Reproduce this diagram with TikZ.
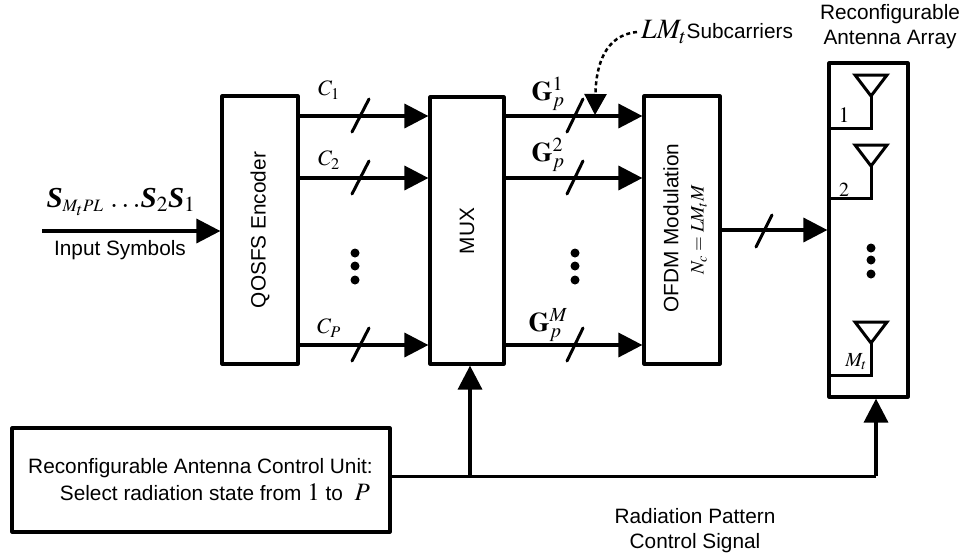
\documentclass[tikz,border=0pt]{standalone}
\usepackage{amsmath,amssymb}
\usepackage{mathptmx}
\usepackage[no-math]{fontspec}
\setmainfont{Liberation Sans}
\newfontfamily\tms{Liberation Serif}
\newcommand{\bS}{\mbox{\tms\bfseries\itshape S}}
\usepackage{tikz}
\usetikzlibrary{arrows.meta}
\begin{document}
\begin{tikzpicture}[x=1pt, y=-1pt, every node/.style={font=\fontsize{20.8}{25}\selectfont, inner sep=0pt}, >={Triangle[length=24pt, width=24pt]}, blk/.style={draw, line width=3.2pt, line join=round}, sig/.style={->, line width=3.5pt}, mk/.style={line width=3pt, line cap=round}, ant/.style={line width=3pt}]
	\useasboundingbox (0,0) rectangle (965,558);
	\node[blk, minimum width=76pt, minimum height=268pt] (enc) at (260,230) {};
	\node[blk, minimum width=74pt, minimum height=267pt] (mux) at (467,230.5) {};
	\node[blk, minimum width=76pt, minimum height=268pt] (ofdm) at (682,230) {};
	\node[blk, minimum width=79pt, minimum height=334pt] (arr) at (868.5,230) {};
	\node[blk, minimum width=378pt, minimum height=104pt] (ctrl) at (201,480) {};
	\node[rotate=90] (enct) at (260,230) {QOSFS Encoder};
	\node[rotate=90] (muxt) at (467,231) {MUX};
	\node[rotate=90] (ofdmt) at (671,228) {OFDM Modulation};
	\node[rotate=90] (nc) at (699,230) {\fontsize{19}{24}\selectfont $N_c = LM_tM$};
	\node[anchor=east] (ct1) at (373,468) {Reconfigurable Antenna Control Unit:};
	\node[anchor=east] (ct2) at (370,492) {Select radiation state from {\fontsize{25}{25}\selectfont $1$} to \ {\fontsize{25}{25}\selectfont $P$}};
	\coordinate (in) at (42,231);
	\draw[sig] (in) -- (enc.west |- in);
	\node (sym) at (121,202) {\fontsize{29}{30}\selectfont $\bS_{\scriptscriptstyle M_tPL}\,\dots\!\bS_2\bS_1$};
	\node (symt) at (120,250) {Input Symbols};
	\foreach \y/\d/\nm/\lb in {116/26/c1/C_1, 178/18/c2/C_2, 345/17/cp/C_P} {
		\draw[sig] (enc.east |- 0,\y) -- (mux.west |- 0,\y);
		\draw[mk] (352,{\y+16}) -- (369,{\y-17});
		\node (\nm) at (329,{\y-\d}) {\fontsize{22}{24}\selectfont $\lb$};
	}
	\foreach \y/\d/\nm/\lb in {116/22/g1/1, 178/23/g2/2, 345/20/gm/M} {
		\draw[sig] (mux.east |- 0,\y) -- (ofdm.west |- 0,\y);
		\draw[mk] (567,{\y+16}) -- (583,{\y-17});
		\node (\nm) at (548,{\y-\d}) {\fontsize{27}{27}\selectfont $\mathbf{G}_p^{\lb}$};
	}
	\foreach \x/\y in {355/253, 355/266, 355/280, 575/253, 575/266, 575/280, 871/248, 871/260, 871/274} {\fill (\x,\y) circle (4.5pt);}
	\coordinate (oa) at (720,230);
	\draw[sig] (ofdm.east |- oa) -- (arr.west |- oa);
	\draw[mk] (756,247) -- (772,215);
	% antennas
	\foreach \t in {75, 145, 322} {
		\draw[ant, line join=miter] (855,\t) -- (887,\t) -- (871,{\t+21}) -- cycle;
		\draw[ant] (871,{\t+21}) |- (arr.west |- 0,{\t+53});
	}
	\node (a1) at (844,115) {\fontsize{22}{24}\selectfont $1$};
	\node (a2) at (844,190) {\fontsize{20}{24}\selectfont $2$};
	\node (am) at (856,362) {\fontsize{20}{24}\selectfont $M_t$};
	\node (arrt) at (890,27) {\begin{tabular}{@{}c@{}}Reconfigurable\\ Antenna Array\end{tabular}};
	% subcarrier note
	\node[anchor=west] (lm) at (641,32) {{\fontsize{28}{30}\selectfont $LM_t$}Subcarriers};
	\coordinate (lmc) at (595,115);
	\draw[->, dash pattern=on 4pt off 3pt, line width=2.5pt, >={Triangle[length=21pt, width=22pt]}] ([xshift=-4pt]lm.west) .. controls (605,35) and (596,65) .. (lmc);
	% control lines
	\coordinate (jn) at (470,476);
	\coordinate (rt) at (876,476);
	\draw[line width=3pt] (ctrl.east |- jn) -- (rt);
	\draw[sig] (jn) -- (jn |- mux.south);
	\draw[sig] (rt) -- (rt |- arr.south);
	\node (rad) at (695,531) {\begin{tabular}{@{}c@{}}Radiation Pattern\\ Control Signal\end{tabular}};
\end{tikzpicture}
\end{document}
